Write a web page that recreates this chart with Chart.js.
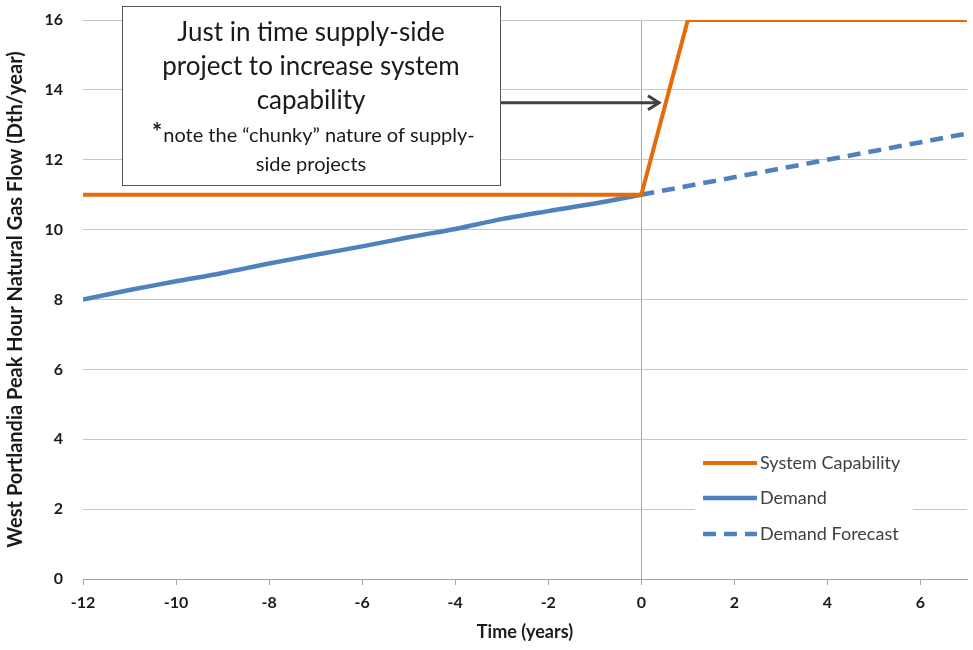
<!DOCTYPE html>
<html lang="en">
<head>
    <meta charset="UTF-8">
    <title>West Portlandia Peak Hour Natural Gas Flow</title>
    <script src="https://cdn.jsdelivr.net/npm/chart.js"></script>
    <style>
        body {
            margin: 0;
            padding: 0;
            background-color: #ffffff;
        }
        canvas {
            display: block;
        }
    </style>
</head>
<body>
    <canvas id="gasChart" width="973" height="650"></canvas>

    <script>
        // values
        const capabilityYears = [-12, 0, 1, 7];
        const capabilityValues = [11, 11, 16, 16];

        const demandYears = [-12, -11, -10, -9, -8, -7, -6, -5, -4, -3, -2, -1, 0];
        const demandValues = [8, 8.27, 8.52, 8.76, 9.03, 9.28, 9.52, 9.78, 10.02, 10.3, 10.53, 10.75, 11];

        const forecastYears = [0, 7];
        const forecastValues = [11, 12.75];

        const xTickValues = [-12, -10, -8, -6, -4, -2, 0, 2, 4, 6];
        const yTickValues = [0, 2, 4, 6, 8, 10, 12, 14, 16];

        const calloutLines = ['Just in time supply-side', 'project to increase system', 'capability'];
        const noteLines = ['note the \u201cchunky\u201d nature of supply-', 'side projects'];
        const legendLabels = ['System Capability', 'Demand', 'Demand Forecast'];

        const textFont = 'Lato, "Open Sans", sans-serif';

        function toPoints(xs, ys) {
            return xs.map((x, i) => ({ x: x, y: ys[i] }));
        }

        // callout box, arrow and legend drawn on top of the plot
        const overlayPlugin = {
            id: 'overlay',
            afterDraw(chart) {
                const ctx = chart.ctx;
                const xs = chart.scales.x;
                const ys = chart.scales.y;
                ctx.save();

                // arrow from box toward the capacity jump
                const ay = ys.getPixelForValue(13.63);
                const ax0 = xs.getPixelForValue(-3.05);
                const ax1 = xs.getPixelForValue(0.38);
                ctx.strokeStyle = '#404040';
                ctx.lineWidth = 3;
                ctx.beginPath();
                ctx.moveTo(ax0, ay);
                ctx.lineTo(ax1, ay);
                ctx.stroke();
                ctx.beginPath();
                ctx.moveTo(ax1 - 11, ay - 7);
                ctx.lineTo(ax1, ay);
                ctx.lineTo(ax1 - 11, ay + 7);
                ctx.stroke();

                // callout box
                const bx = 122, by = 6, bw = 378, bh = 179;
                ctx.fillStyle = '#ffffff';
                ctx.fillRect(bx, by, bw, bh);
                ctx.strokeStyle = '#555555';
                ctx.lineWidth = 1;
                ctx.strokeRect(bx + 0.5, by + 0.5, bw, bh);

                const cx = bx + bw / 2;
                ctx.fillStyle = '#1a1a1a';
                ctx.textAlign = 'center';
                ctx.textBaseline = 'middle';
                ctx.font = '26px ' + textFont;
                calloutLines.forEach((t, i) => ctx.fillText(t, cx, 33 + i * 34));

                ctx.font = '20px ' + textFont;
                const w0 = ctx.measureText(noteLines[0]).width;
                ctx.fillText(noteLines[0], cx + 8, 136);
                ctx.fillText(noteLines[1], cx, 165);
                ctx.font = 'bold 24px ' + textFont;
                ctx.textAlign = 'right';
                ctx.fillText('*', cx + 8 - w0 / 2 - 1, 133);

                // legend
                ctx.fillStyle = '#ffffff';
                ctx.fillRect(695, 447, 218, 104);
                const rows = [463, 498, 534];
                chart.data.datasets.forEach((ds, i) => {
                    ctx.strokeStyle = ds.borderColor;
                    ctx.lineWidth = ds.borderWidth;
                    ctx.setLineDash(ds.borderDash || []);
                    ctx.beginPath();
                    ctx.moveTo(703, rows[i]);
                    ctx.lineTo(757, rows[i]);
                    ctx.stroke();
                    ctx.setLineDash([]);
                    ctx.fillStyle = '#404040';
                    ctx.font = '18px ' + textFont;
                    ctx.textAlign = 'left';
                    ctx.textBaseline = 'middle';
                    ctx.fillText(legendLabels[i], 760, rows[i]);
                });

                ctx.restore();
            }
        };

        const ctx = document.getElementById('gasChart').getContext('2d');
        const chart = new Chart(ctx, {
            type: 'line',
            data: {
                datasets: [{
                    label: legendLabels[0],
                    data: toPoints(capabilityYears, capabilityValues),
                    borderColor: '#E46C0A',
                    borderWidth: 4,
                    pointRadius: 0,
                    tension: 0
                }, {
                    label: legendLabels[1],
                    data: toPoints(demandYears, demandValues),
                    borderColor: '#4F81BD',
                    borderWidth: 4.5,
                    pointRadius: 0,
                    tension: 0.3
                }, {
                    label: legendLabels[2],
                    data: toPoints(forecastYears, forecastValues),
                    borderColor: '#4F81BD',
                    borderWidth: 4.5,
                    borderDash: [13, 8],
                    pointRadius: 0,
                    tension: 0
                }]
            },
            options: {
                responsive: false,
                animation: false,
                layout: { padding: { top: 20, right: 6, left: 0, bottom: 0 } },
                plugins: {
                    legend: { display: false },
                    tooltip: { enabled: false }
                },
                scales: {
                    x: {
                        type: 'linear',
                        min: -12,
                        max: 7,
                        afterBuildTicks(scale) {
                            scale.ticks = xTickValues.map(v => ({ value: v }));
                        },
                        afterFit(scale) {
                            scale.height = 71;
                        },
                        grid: {
                            color: c => (c.tick && c.tick.value === 0) ? '#a6a6a6' : 'rgba(0,0,0,0)',
                            tickColor: '#a6a6a6',
                            tickLength: 6,
                            lineWidth: 1
                        },
                        border: { color: '#a6a6a6', width: 1 },
                        ticks: {
                            color: '#1a1a1a',
                            font: { family: textFont, size: 16, weight: 'bold' },
                            padding: 8,
                            maxRotation: 0
                        },
                        title: {
                            display: true,
                            text: 'Time (years)',
                            color: '#1a1a1a',
                            font: { family: textFont, size: 18, weight: 'bold' },
                            padding: { top: 4, bottom: 7 }
                        }
                    },
                    y: {
                        min: 0,
                        max: 16,
                        afterBuildTicks(scale) {
                            scale.ticks = yTickValues.map(v => ({ value: v }));
                        },
                        afterFit(scale) {
                            scale.width = 83;
                            scale.paddingTop = 0;
                            scale.paddingBottom = 0;
                        },
                        grid: {
                            color: '#c6c6c6',
                            lineWidth: 1,
                            drawTicks: false
                        },
                        border: { display: false },
                        ticks: {
                            color: '#1a1a1a',
                            font: { family: textFont, size: 16, weight: 'bold' },
                            padding: 20
                        },
                        title: {
                            display: true,
                            text: 'West Portlandia Peak Hour Natural Gas Flow (Dth/year)',
                            color: '#1a1a1a',
                            font: { family: textFont, size: 20, weight: 'bold' },
                            padding: { top: 4, bottom: 4 }
                        }
                    }
                }
            },
            plugins: [overlayPlugin]
        });
    </script>
</body>
</html>
